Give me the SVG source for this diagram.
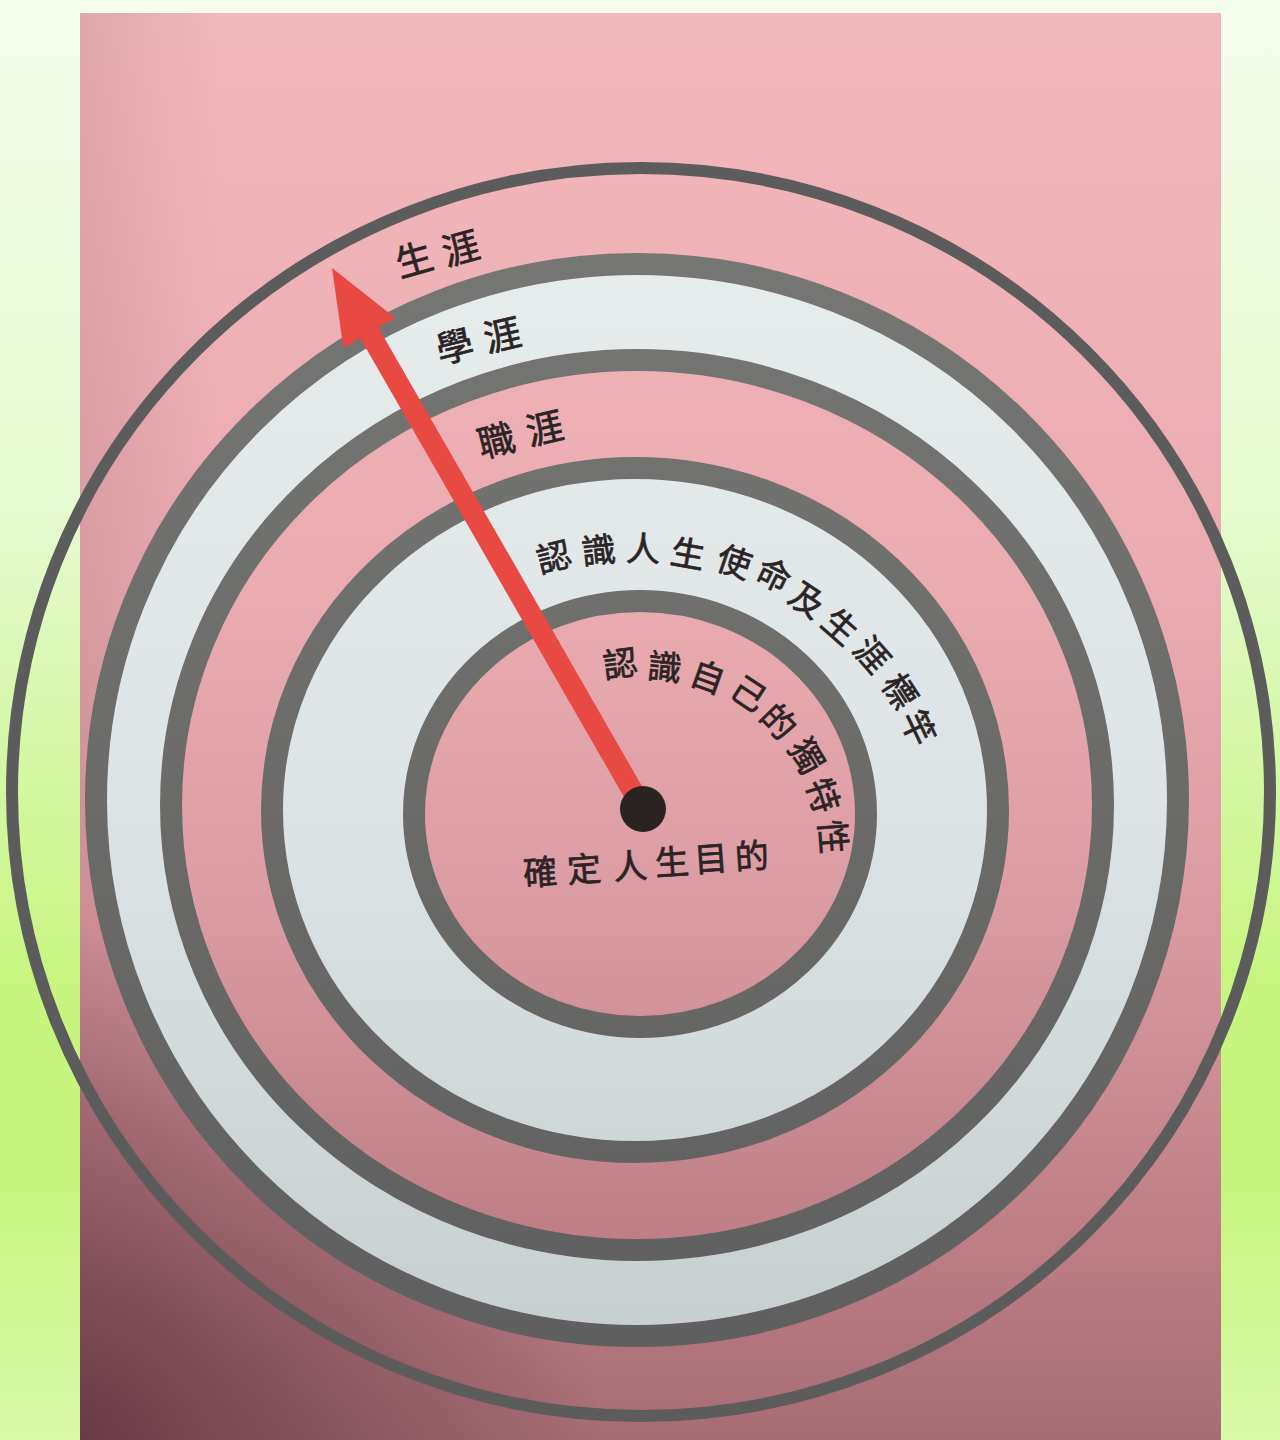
<svg xmlns="http://www.w3.org/2000/svg" width="1280" height="1440" viewBox="0 0 1280 1440">
<defs>
  <linearGradient id="bg" x1="0" y1="0" x2="0" y2="1">
    <stop offset="0" stop-color="#f5fdec"/>
    <stop offset="0.35" stop-color="#e5fad0"/>
    <stop offset="0.68" stop-color="#c8f580"/>
    <stop offset="0.8" stop-color="#c5f47a"/>
    <stop offset="1" stop-color="#d9faa9"/>
  </linearGradient>
  <linearGradient id="pink" gradientUnits="userSpaceOnUse" x1="0" y1="13" x2="0" y2="1440">
    <stop offset="0" stop-color="#f3b8bc"/>
    <stop offset="0.4" stop-color="#eaabb1"/>
    <stop offset="0.62" stop-color="#dc9ca3"/>
    <stop offset="0.85" stop-color="#bf7f87"/>
    <stop offset="1" stop-color="#a66c74"/>
  </linearGradient>
  <linearGradient id="band" gradientUnits="userSpaceOnUse" x1="0" y1="250" x2="0" y2="1350">
    <stop offset="0" stop-color="#e7eced"/>
    <stop offset="0.5" stop-color="#dee4e5"/>
    <stop offset="1" stop-color="#c6ced0"/>
  </linearGradient>
  <linearGradient id="ringStroke" gradientUnits="userSpaceOnUse" x1="0" y1="250" x2="0" y2="1350">
    <stop offset="0" stop-color="#767674"/>
    <stop offset="1" stop-color="#5f5f5f"/>
  </linearGradient>
  <radialGradient id="corner" gradientUnits="userSpaceOnUse" cx="80" cy="1440" r="520">
    <stop offset="0" stop-color="#4a2430" stop-opacity="0.65"/>
    <stop offset="1" stop-color="#4a2430" stop-opacity="0"/>
  </radialGradient>
  <linearGradient id="leftShade" gradientUnits="userSpaceOnUse" x1="80" y1="0" x2="220" y2="0">
    <stop offset="0" stop-color="#6a3040" stop-opacity="0.13"/>
    <stop offset="1" stop-color="#6a3040" stop-opacity="0"/>
  </linearGradient>
</defs>
<style>
  .ring { stroke: url(#ringStroke); stroke-width: 22; }
  .lbl { font-family: "Noto Sans CJK TC", "Noto Sans CJK SC", sans-serif; fill: #2b2426; stroke: #2b2426; stroke-width: 0.7; text-anchor: middle; dominant-baseline: central; font-weight: 400; }
  .big { font-size: 37px; }
  .mid { font-size: 34px; }
</style>

<rect x="0" y="0" width="1280" height="1440" fill="url(#bg)"/>

<g id="photo">
  <rect x="80" y="13" width="1141" height="1427" fill="url(#pink)"/>
  <rect x="80" y="13" width="1141" height="1427" fill="url(#leftShade)"/>
  <rect x="80" y="13" width="1141" height="1427" fill="url(#corner)"/>
</g>

<g id="rings">
  <ellipse id="ring-xueya" class="ring" cx="637" cy="800" rx="541" ry="536" fill="url(#band)"/>
  <ellipse id="ring-zhiya" class="ring" cx="637" cy="805" rx="466" ry="445" fill="url(#pink)"/>
  <ellipse id="ring-mission" class="ring" cx="635" cy="810" rx="363" ry="342" fill="url(#band)"/>
  <ellipse id="ring-self" class="ring" cx="640" cy="814" rx="226" ry="213" fill="url(#pink)"/>
</g>

<g id="connectors">
  <polygon id="arrow" fill="#e84a43" points="652.1,803.8 378.5,327.8 395.4,318 332,268 343.4,348 360.3,338.2 633.9,814.2"/>
</g>

<g id="center-dot">
  <circle cx="643" cy="809" r="23" fill="#2b2321"/>
</g>

<g id="label-shengya" class="lbl big">
  <text transform="translate(413.3 257.3) rotate(-16)">生</text>
  <text transform="translate(460 246) rotate(-15)">涯</text>
</g>
<g id="label-xueya" class="lbl big">
  <text transform="translate(454 344) rotate(-14)">學</text>
  <text transform="translate(501.7 332.7) rotate(-13)">涯</text>
</g>
<g id="label-zhiya" class="lbl big">
  <text transform="translate(495.7 438.3) rotate(-14)">職</text>
  <text transform="translate(544 426) rotate(-13)">涯</text>
</g>

<g id="label-mission" class="lbl mid">
  <text transform="translate(553.3 555) rotate(-14.3)">認</text>
  <text transform="translate(598.3 548.3) rotate(-6.1)">識</text>
  <text transform="translate(643.3 546.7) rotate(2)">人</text>
  <text transform="translate(688.3 551.7) rotate(10.2)">生</text>
  <text transform="translate(735 560) rotate(18.7)">使</text>
  <text transform="translate(775 573.3) rotate(26.2)">命</text>
  <text transform="translate(808.3 598.3) rotate(33.5)">及</text>
  <text transform="translate(841.7 625) rotate(41.3)">生</text>
  <text transform="translate(873.3 653.3) rotate(48.8)">涯</text>
  <text transform="translate(901.7 690) rotate(57.2)">標</text>
  <text transform="translate(920 726.7) rotate(64.6)">竿</text>
</g>

<g id="label-self" class="lbl mid">
  <text transform="translate(620 661.7) rotate(-7.5)">認</text>
  <text transform="translate(665 665) rotate(6)">識</text>
  <text transform="translate(708.3 675) rotate(19.7)">自</text>
  <text transform="translate(750 691.7) rotate(33.4)">己</text>
  <text transform="translate(780 720) rotate(45.9)">的</text>
  <text transform="translate(808.3 755) rotate(59.5)">獨</text>
  <text transform="translate(825 795) rotate(72.7)">特</text>
  <text transform="translate(835 836.7) rotate(85.8)">性</text>
</g>

<g id="label-purpose" class="lbl mid">
  <text transform="translate(540 870) rotate(-4)">確</text>
  <text transform="translate(584 867) rotate(-4)">定</text>
  <text transform="translate(630 864) rotate(-4)">人</text>
  <text transform="translate(671.7 860) rotate(-4)">生</text>
  <text transform="translate(710.7 856.7) rotate(-4)">目</text>
  <text transform="translate(751.7 854) rotate(-4)">的</text>
</g>

<g id="outer-circle">
  <ellipse cx="641" cy="792" rx="629" ry="624" fill="none" stroke="#5c5c5c" stroke-width="12"/>
</g>
</svg>
